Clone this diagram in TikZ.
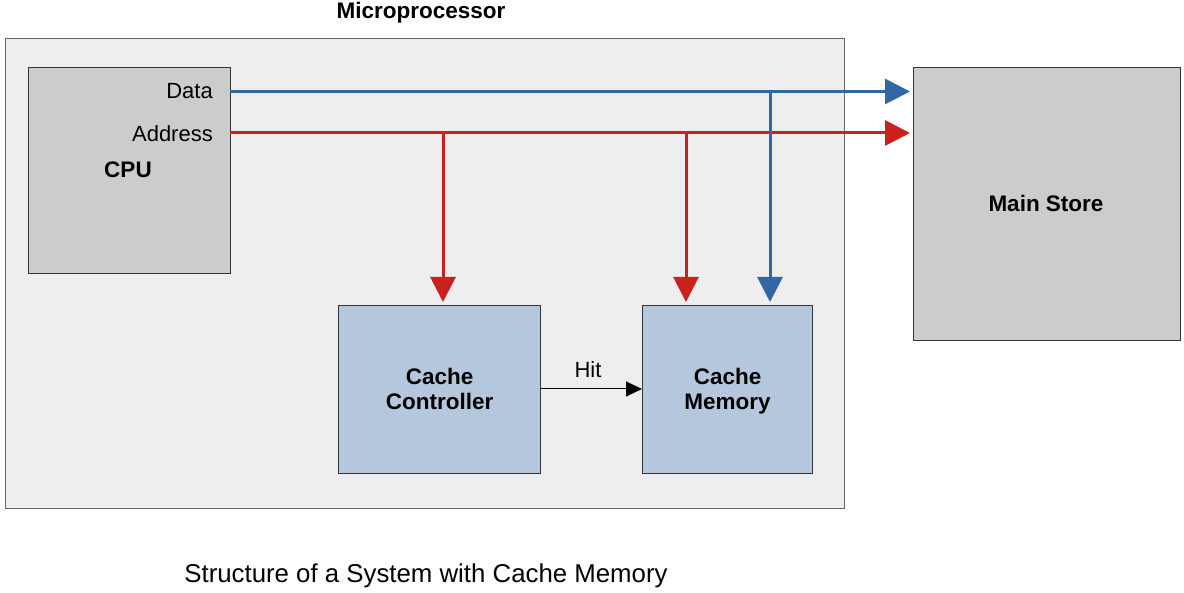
\documentclass[tikz,border=0pt]{standalone}
\usepackage{fontspec}
\setmainfont{Liberation Sans}
\usetikzlibrary{arrows.meta}
\definecolor{mpfill}{HTML}{EEEEEE}
\definecolor{mpdraw}{HTML}{666666}
\definecolor{boxgray}{HTML}{CCCCCC}
\definecolor{boxblue}{HTML}{B4C7DC}
\definecolor{lineblue}{HTML}{3465A4}
\definecolor{linered}{HTML}{C9211E}
\definecolor{boxdraw}{HTML}{333333}
\tikzset{
  unit/.style={draw=boxdraw, line width=1.2pt, inner sep=0pt, anchor=north west},
  graybox/.style={unit, fill=boxgray},
  bluebox/.style={unit, fill=boxblue},
  lbl/.style={font=\fontsize{22}{26}\selectfont, inner sep=0pt},
  blbl/.style={font=\fontsize{22.5}{25}\selectfont\bfseries, inner sep=0pt, align=center},
  bus/.style={line width=3pt, -{Triangle[length=25pt,width=25pt]}, shorten >=3pt},
  hit/.style={line width=1pt, -{Triangle[length=16pt,width=15pt]}}
}
\begin{document}
\begin{tikzpicture}[x=1pt,y=-1pt]
\useasboundingbox (0,0) rectangle (1184,593);
% Microprocessor
\node[unit, draw=mpdraw, fill=mpfill, minimum width=839pt, minimum height=470pt] (mp) at (5,38) {};
\node[blbl] (mptitle) at (421,13) {Microprocessor};
% CPU
\node[graybox, minimum width=202pt, minimum height=206pt] (cpu) at (28,67) {};
\node[lbl, anchor=east] (data) at (213,91) {Data};
\node[lbl, anchor=east] (addr) at (213,134) {Address};
\node[blbl] (cpulbl) at (128,170) {CPU};
% Main store
\node[graybox, minimum width=267pt, minimum height=273pt] (ms) at (913,67) {};
\node[blbl] (mslbl) at (1046,203) {Main Store};
% Cache controller and memory
\node[bluebox, minimum width=202pt, minimum height=168pt] (cc) at (338,305) {};
\node[blbl] (cclbl) at ([yshift=1pt]cc.center) {Cache\\Controller};
\node[bluebox, minimum width=170pt, minimum height=168pt] (cm) at (642,305) {};
\node[blbl] (cmlbl) at ([yshift=-1.4pt]cm.center) {Cache\\Memory};
% Buses
\coordinate (dstart) at (230,91.5);
\coordinate (astart) at (230,133);
\coordinate (dbr) at (770,91.5);
\coordinate (abr1) at (443,133);
\coordinate (abr2) at (686,133);
\coordinate (hitrow) at (0,389);
\draw[bus, lineblue] (dstart) -- (dstart -| ms.west);
\draw[bus, linered] (astart) -- (astart -| ms.west);
\draw[bus, lineblue] (dbr) -- (dbr |- cm.north);
\draw[bus, linered] (abr1) -- (abr1 |- cc.north);
\draw[bus, linered] (abr2) -- (abr2 |- cm.north);
% Hit
\draw[hit] (cc.east |- hitrow) -- (cm.west |- hitrow);
\node[lbl] (hitlbl) at (588,370) {Hit};
% Caption
\node[font=\fontsize{25.8}{30}\selectfont, inner sep=0pt] (caption) at (426,576) {Structure of a System with Cache Memory};
\end{tikzpicture}
\end{document}
